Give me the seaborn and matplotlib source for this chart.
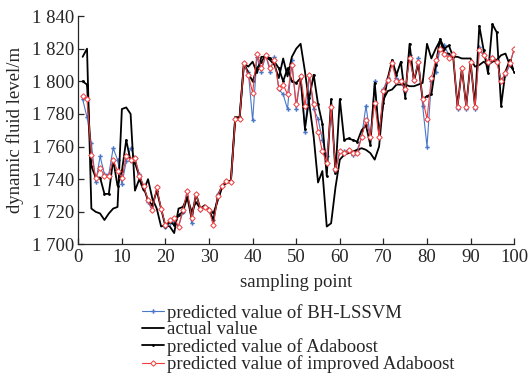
import matplotlib
matplotlib.use("Agg")
import matplotlib.pyplot as plt
import matplotlib.ticker as mticker
import seaborn as sns

# sampling points 1..100
points = list(range(1, 101))

bh_lssvm = [1789, 1778, 1762, 1738, 1754, 1743, 1743, 1759, 1752, 1737,
            1751, 1759, 1753, 1743, 1735, 1726, 1721, 1735, 1722, 1711,
            1713, 1714, 1711, 1720, 1733, 1713, 1731, 1721, 1723, 1721,
            1715, 1731, 1736, 1739, 1738, 1777, 1777, 1811, 1806, 1776,
            1815, 1806, 1816, 1806, 1815, 1795, 1792, 1783, 1813, 1783,
            1803, 1769, 1804, 1783, 1777, 1764, 1754, 1784, 1745, 1757,
            1757, 1758, 1755, 1758, 1766, 1785, 1766, 1800, 1766, 1795,
            1802, 1812, 1802, 1800, 1794, 1816, 1800, 1814, 1785, 1760,
            1800, 1806, 1820, 1822, 1816, 1816, 1783, 1808, 1783, 1812,
            1783, 1821, 1816, 1812, 1815, 1813, 1801, 1804, 1810, 1820]

actual = [1815, 1820, 1722, 1720, 1719, 1715, 1719, 1722, 1723, 1783,
          1784, 1780, 1733, 1740, 1733, 1740, 1728, 1722, 1711, 1712,
          1711, 1707, 1722, 1723, 1729, 1720, 1726, 1722, 1724, 1722,
          1719, 1727, 1735, 1738, 1738, 1777, 1777, 1811, 1809, 1812,
          1805, 1815, 1815, 1813, 1810, 1802, 1814, 1803, 1815, 1820,
          1823, 1806, 1786, 1766, 1738, 1745, 1711, 1713, 1735, 1752,
          1755, 1756, 1757, 1758, 1759, 1758, 1756, 1752, 1760, 1789,
          1794, 1795, 1798, 1798, 1798, 1797, 1797, 1798, 1799, 1823,
          1814, 1820, 1825, 1817, 1817, 1815, 1815, 1814, 1814, 1814,
          1809, 1810, 1812, 1810, 1812, 1813, 1816, 1817, 1810, 1806]

adaboost = [1800, 1798, 1748, 1741, 1741, 1731, 1731, 1752, 1736, 1745,
            1764, 1751, 1750, 1742, 1735, 1727, 1724, 1733, 1722, 1711,
            1714, 1712, 1718, 1720, 1729, 1716, 1731, 1722, 1723, 1721,
            1715, 1729, 1736, 1739, 1739, 1778, 1778, 1811, 1805, 1800,
            1808, 1812, 1816, 1814, 1812, 1808, 1800, 1808, 1800, 1799,
            1802, 1771, 1790, 1804, 1786, 1774, 1742, 1789, 1744, 1789,
            1764, 1765, 1764, 1763, 1770, 1773, 1761, 1799, 1768, 1787,
            1802, 1813, 1804, 1812, 1790, 1823, 1800, 1811, 1789, 1791,
            1792, 1810, 1826, 1820, 1822, 1815, 1785, 1808, 1785, 1812,
            1785, 1834, 1819, 1805, 1835, 1830, 1785, 1806, 1813, 1806]

improved = [1791, 1789, 1755, 1741, 1747, 1742, 1742, 1752, 1745, 1741,
            1754, 1752, 1753, 1742, 1736, 1727, 1721, 1735, 1722, 1712,
            1715, 1716, 1711, 1721, 1733, 1716, 1731, 1722, 1723, 1721,
            1712, 1730, 1736, 1739, 1738, 1777, 1777, 1811, 1804, 1793,
            1817, 1808, 1816, 1808, 1813, 1796, 1798, 1792, 1810, 1786,
            1803, 1785, 1804, 1786, 1769, 1757, 1750, 1784, 1746, 1757,
            1756, 1758, 1756, 1756, 1766, 1776, 1766, 1787, 1766, 1794,
            1801, 1811, 1800, 1800, 1795, 1814, 1801, 1812, 1789, 1777,
            1802, 1813, 1820, 1817, 1814, 1817, 1784, 1808, 1784, 1812,
            1784, 1819, 1816, 1812, 1814, 1812, 1800, 1805, 1811, 1820]

sns.set_style("ticks")
plt.rcParams['font.family'] = ['Liberation Serif', 'DejaVu Serif']

fig = plt.figure(figsize=(5.29, 3.82), dpi=100)
ax = fig.add_axes([0.148, 0.36, 0.824, 0.598])

sns.lineplot(x=points, y=bh_lssvm, ax=ax, color="#4a78c8", lw=0.8,
             marker="P", markersize=3.2, markeredgewidth=0,
             label="predicted value of BH-LSSVM")
sns.lineplot(x=points, y=actual, ax=ax, color="black", lw=1.3,
             label="actual value")
sns.lineplot(x=points, y=adaboost, ax=ax, color="black", lw=1.3,
             marker="o", markersize=2.0, markeredgewidth=0,
             label="predicted value of Adaboost")
sns.lineplot(x=points, y=improved, ax=ax, color="#f03c3c", lw=0.8,
             marker="D", markersize=2.8, markerfacecolor="white",
             markeredgecolor="#f03c3c", markeredgewidth=0.7,
             label="predicted value of improved Adaboost")

ax.set_xlim(0, 100)
ax.set_ylim(1700, 1840)
ax.set_xticks(range(0, 101, 10))
ax.set_yticks(range(1700, 1841, 20))
ax.yaxis.set_major_formatter(mticker.FuncFormatter(lambda v, p: f"{v:,.0f}".replace(",", " ")))
ax.tick_params(direction="in", length=4, width=0.9, labelsize=13.5, pad=3)
for s in ["top", "right"]:
    ax.spines[s].set_visible(False)
for s in ["left", "bottom"]:
    ax.spines[s].set_linewidth(0.9)

ax.set_xlabel("sampling point", fontsize=13.5, labelpad=6)
ax.set_ylabel("dynamic fluid level/m", fontsize=13.5, labelpad=6)

handles, labels = ax.get_legend_handles_labels()
ax.get_legend().remove()
fig.legend(handles, labels, loc="upper left", bbox_to_anchor=(0.268, 0.205),
           frameon=False, fontsize=13.5, handlelength=1.2, handletextpad=0.15,
           labelspacing=-0.02, borderpad=0, borderaxespad=0)

fig.savefig("out.png", dpi=100)
